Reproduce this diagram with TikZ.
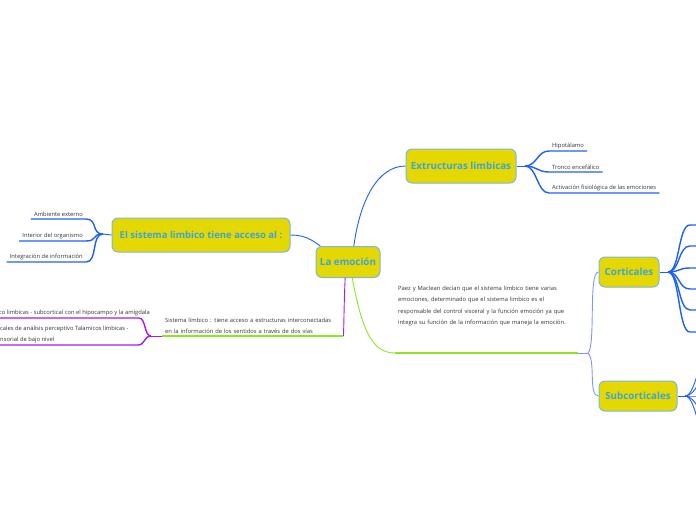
\documentclass[tikz,border=0pt]{standalone}
\usepackage{fontspec}
\setmainfont{Open Sans}
\definecolor{topicfill}{RGB}{229,215,0}
\definecolor{topicline}{RGB}{120,185,225}
\definecolor{topictext}{RGB}{55,165,225}
\definecolor{linkblue}{RGB}{30,95,245}
\definecolor{linkpurple}{RGB}{165,25,250}
\definecolor{linkgreen}{RGB}{140,230,35}
\definecolor{linklight}{RGB}{125,150,255}
\definecolor{leaftext}{RGB}{50,50,50}
\tikzset{>=latex}

\begin{document}
\begin{tikzpicture}[x=1pt,y=-1pt,
  topic/.style={draw=topicline,line width=1pt,fill=topicfill,rounded corners=6pt,
    text=topictext,font=\bfseries\fontsize{9.8}{11}\selectfont,inner xsep=3pt},
  leaf/.style={text=leaftext,font=\fontsize{5.8}{11.3}\selectfont,inner xsep=3pt,
    inner ysep=2pt,align=left},
  link/.style={line width=0.9pt},
  uline/.style={line width=1.4pt}]
  \useasboundingbox (0,0) rectangle (696,520); % page size
  % topics
  \node[topic,minimum width=64pt,minimum height=31pt] (emo) at (348,262) {La emoción};
  \node[topic,minimum width=110pt,minimum height=34pt] (ext) at (461,166) {Extructuras limbicas};
  \node[topic,minimum width=178pt,minimum height=34pt,font=\bfseries\fontsize{9.5}{11}\selectfont]
    (acc) at (201,235) {El sistema limbico tiene acceso al :};
  \node[topic,minimum width=60pt,minimum height=30pt] (cort) at (629,272) {Corticales};
  \node[topic,minimum width=78pt,minimum height=30pt] (subc) at (638,396) {Subcorticales};
  \draw[link,linkblue] (emo.70) .. controls (360,200) and (378,166) .. (ext.west);
  \draw[link,linkblue] (acc.east) .. controls (305,235) and (312,240) .. (emo.150);
  % right branch: Extructuras limbicas
  \coordinate (jext) at (525,166);
  \draw[link,linkblue] (ext.east) -- (jext);
  \foreach \n/\y/\t in {hipo/151/Hipotálamo,tronco/172/Tronco encefálico,
    activ/193/Activación fisiológica de las emociones}{
    \node[leaf,anchor=south west] (\n) at (549,\y) {\t};
    \draw[uline,linkblue] (jext) .. controls +(12,0) and +(-12,0) .. (\n.south west) -- (\n.south east);
  }
  % left branch: acceso
  \coordinate (jacc) at (103,234);
  \draw[link,linkblue] (acc.west) -- (jacc);
  \foreach \n/\y/\t in {amb/219/Ambiente externo,inte/241/Interior del organismo,
    integ/262/Integración de información}{
    \node[leaf,anchor=south east] (\n) at (86,\y) {\t};
    \draw[uline,linkblue] (jacc) .. controls +(-12,0) and +(12,0) .. (\n.south east) -- (\n.south west);
  }
  % lower left: Sistema limbico
  \node[leaf,anchor=south west,text width=175pt] (sist) at (162,336)
    {Sistema límbico : tiene acceso a estructuras interconectadas\\en la información de los sentidos a través de dos vías};
  \draw[link,linkpurple] (emo.260) .. controls (344,300) and (344,326) .. (sist.south east);
  \draw[uline,linkgreen] (sist.south east) -- (sist.south west);
  \coordinate (jpur) at (151,336);
  \draw[link,linkpurple] (sist.south west) -- (jpur);
  \node[leaf,anchor=south east] (cort1) at (153,318)
    {co limbicas - subcortical con el hipocampo y la amígdala};
  \node[leaf,anchor=south west] (cort2) at (-3,345)
    {cales de análisis perceptivo Talamicos limbicas -\\nsorial de bajo nivel};
  \coordinate (e1) at (139,318);
  \coordinate (e2) at (138,345);
  \draw[uline,linkpurple] (jpur) .. controls +(-7,0) and +(7,0) .. (e1) -- (cort1.south west -| 0,0);
  \draw[uline,linkpurple] (jpur) .. controls +(-7,0) and +(7,0) .. (e2) -- (cort2.south west);
  % lower right: Paez y Maclean
  \node[leaf,anchor=north west,text width=180pt] (paez) at (395,284)
    {Paez y Maclean decían que el sistema limbico tiene varias\\emociones, determinado que el sistema limbico es el\\responsable del control visceral y la función emoción ya que\\integra su función de la información que maneja la emoción.};
  \coordinate (pl) at (395,353);
  \coordinate (pr) at (578,353);
  \draw[link,linkgreen] (emo.285) .. controls (362,330) and (372,353) .. (pl);
  \draw[uline,linkgreen] (pl) -- (pr);
  \coordinate (jpaez) at (588,353);
  \draw[link,linklight] (pr) -- (jpaez);
  \draw[link,linklight] (jpaez) .. controls (596,345) and (588,272) .. (cort.west);
  \draw[link,linklight] (jpaez) .. controls (596,361) and (588,396) .. (subc.west);
  % Corticales leaves (cut at page edge)
  \coordinate (jcort) at (668,272);
  \draw[link,linkblue] (cort.east) -- (jcort);
  \foreach \y [count=\i] in {225,246,268,289,310,332}{
    \coordinate (c\i) at (690,\y);
    \draw[uline,linkblue] (jcort) .. controls +(12,0) and +(-12,0) .. (c\i) -- +(12,0);
  }
  % Subcorticales leaves (cut at page edge)
  \coordinate (jsubc) at (685,396);
  \draw[link,linkblue] (subc.east) -- (jsubc);
  \foreach \y [count=\i] in {345,372,396,420,450}{
    \coordinate (s\i) at (712,\y);
    \draw[link,linkblue] (jsubc) .. controls +(12,0) and +(-12,0) .. (s\i);
  }
\end{tikzpicture}
\end{document}
